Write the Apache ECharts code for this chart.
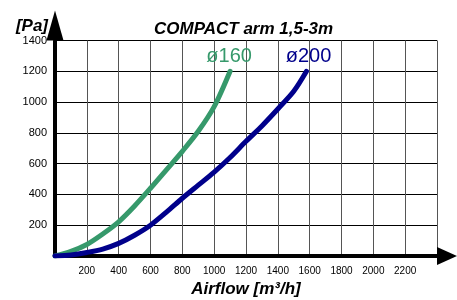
<!DOCTYPE html>
<html>
<head>
<meta charset="utf-8">
<script src="https://cdn.jsdelivr.net/npm/echarts@6/dist/echarts.min.js"></script>
<style>
    html, body { margin: 0; padding: 0; background: #fff; }
    #chart { width: 457px; height: 300px; }
</style>
</head>
<body>
<div id="chart"></div>
<script>
// 数据
const flow160 = [0, 100, 200, 300, 400, 500, 600, 700, 800, 900, 1000, 1100];
const pa160 = [0, 30, 75, 143, 222, 325, 440, 560, 680, 810, 970, 1200];
const flow200 = [0, 100, 200, 300, 400, 500, 600, 700, 800, 900, 1000, 1100, 1200, 1300, 1400, 1500, 1580];
const pa200 = [0, 7, 23, 45, 82, 135, 200, 285, 375, 460, 545, 640, 745, 845, 955, 1070, 1200];
const seriesNames = ['ø160', 'ø200'];
const xTicks = [200, 400, 600, 800, 1000, 1200, 1400, 1600, 1800, 2000, 2200];
const yTicks = [200, 400, 600, 800, 1000, 1200, 1400];

const font = 'Liberation Sans, Arial, sans-serif';
const green = '#36996b';
const navy = '#00008b';
const boldItalic = { fontFamily: font, fontSize: 17, fontWeight: 'bold', fontStyle: 'italic', color: '#000' };

function pairs(xs, ys) {
    return xs.map((x, i) => [x, ys[i]]);
}

function curve(name, xs, ys, color, dx) {
    return {
        name: name,
        type: 'line',
        smooth: 0.3,
        showSymbol: false,
        data: pairs(xs, ys),
        lineStyle: { color: color, width: 5, cap: 'round' },
        endLabel: {
            show: true, formatter: name, color: color,
            fontFamily: font, fontSize: 20, align: 'center', verticalAlign: 'middle', offset: [dx, -15]
        }
    };
}

const chart = echarts.init(document.getElementById('chart'));
chart.setOption({
    animation: false,
    title: {
        text: 'COMPACT arm 1,5-3m',
        left: 149,
        top: 16,
        textStyle: boldItalic
    },
    grid: { left: 55, right: 20, top: 40.5, bottom: 44, containLabel: false, outerBoundsMode: 'none' },
    xAxis: {
        type: 'value',
        min: 0,
        max: 2400,
        interval: 200,
        name: 'Airflow [m³/h]',
        nameLocation: 'middle',
        nameGap: 25,
        nameTextStyle: boldItalic,
        axisLine: { lineStyle: { color: '#000', width: 4 }, symbol: ['none', 'triangle'], symbolSize: [18, 20], symbolOffset: [0, 10] },
        axisTick: { show: false },
        axisLabel: {
            margin: 10,
            fontFamily: font, fontSize: 10, color: '#000',
            formatter: v => xTicks.includes(v) ? String(v) : ''
        },
        splitLine: { show: true, lineStyle: { color: '#555', width: 1 } }
    },
    yAxis: {
        type: 'value',
        min: 0,
        max: 1400,
        interval: 200,
        name: '[Pa]',
        nameLocation: 'end',
        nameGap: 14,
        nameTextStyle: Object.assign({}, boldItalic, { align: 'right', verticalAlign: 'middle', padding: [0, 7, 0, 0] }),
        axisLine: { show: true, lineStyle: { color: '#000', width: 4 }, symbol: ['none', 'triangle'], symbolSize: [17, 30], symbolOffset: [0, 15] },
        axisTick: { show: false },
        axisLabel: {
            margin: 8,
            fontFamily: font, fontSize: 11, color: '#000',
            formatter: v => yTicks.includes(v) ? String(v) : ''
        },
        splitLine: { show: true, lineStyle: { color: '#000', width: 1 } }
    },
    series: [
        curve(seriesNames[0], flow160, pa160, green, -9),
        curve(seriesNames[1], flow200, pa200, navy, -6)
    ]
});
</script>
</body>
</html>
